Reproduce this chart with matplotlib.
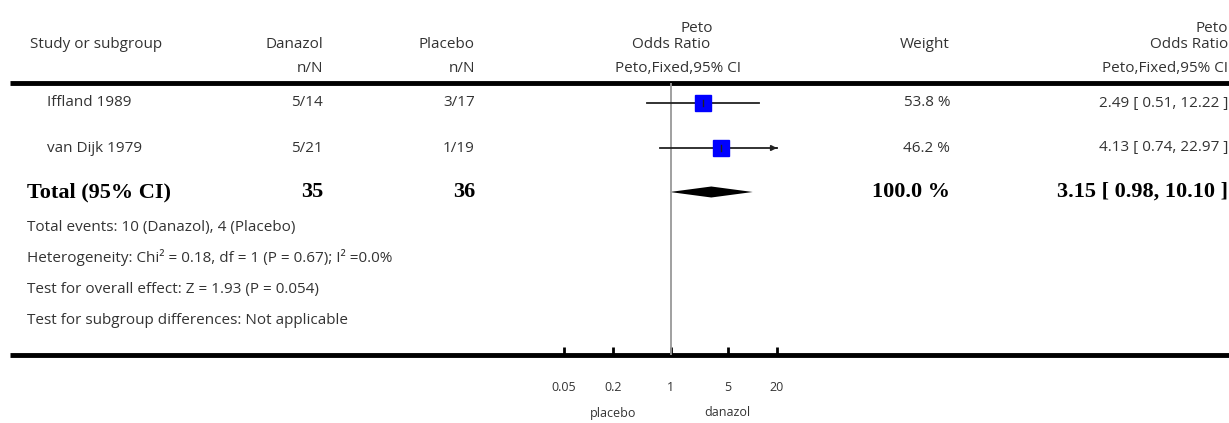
import numpy as np
import matplotlib.pyplot as plt

# study data
studies = ["Iffland 1989", "van Dijk 1979"]
danazol_nN = ["5/14", "5/21"]
placebo_nN = ["3/17", "1/19"]
odds = [2.49, 4.13]
ci_low = [0.51, 0.74]
ci_high = [12.22, 22.97]
weights = ["53.8 %", "46.2 %"]
or_text = ["2.49 [ 0.51, 12.22 ]", "4.13 [ 0.74, 22.97 ]"]

total_or = 3.15
total_low = 0.98
total_high = 10.10
total_danazol = "35"
total_placebo = "36"
total_weight = "100.0 %"
total_text = "3.15 [ 0.98, 10.10 ]"

footnotes = [
    "Total events: 10 (Danazol), 4 (Placebo)",
    "Heterogeneity: Chi² = 0.18, df = 1 (P = 0.67); I² =0.0%",
    "Test for overall effect: Z = 1.93 (P = 0.054)",
    "Test for subgroup differences: Not applicable",
]
tick_vals = [0.05, 0.2, 1, 5, 20]
tick_labels = ["0.05", "0.2", "1", "5", "20"]

W, H = 1229, 423
font = "Open Sans"
txt = "#333333"
fs = 11

fig = plt.figure(figsize=(W / 100, H / 100), dpi=100)
bg = fig.add_axes([0, 0, 1, 1])
bg.set_xlim(0, W)
bg.set_ylim(H, 0)
bg.axis("off")

top_y, bot_y = 83, 355
row_y = [103, 148]
total_y = 192
x_lo, x_hi = 564, 777
left, indent = 30, 47
col_d, col_p, col_w, col_r = 323, 475, 950, 1228

def t(x, y, s, ha="left", **kw):
    kw.setdefault("fontsize", fs)
    kw.setdefault("color", txt)
    kw.setdefault("family", font)
    bg.text(x, y, s, ha=ha, va="center", **kw)

# header
t(left, 44, "Study or subgroup")
t(col_d, 44, "Danazol", ha="right")
t(col_p, 44, "Placebo", ha="right")
t(713, 28, "Peto", ha="right")
t(671, 44, "Odds Ratio", ha="center")
t(col_w, 44, "Weight", ha="right")
t(col_r, 28, "Peto", ha="right")
t(col_r, 44, "Odds Ratio", ha="right")
t(col_d, 68, "n/N", ha="right")
t(col_p, 68, "n/N", ha="right")
t(678, 68, "Peto,Fixed,95% CI", ha="center")
t(col_r, 68, "Peto,Fixed,95% CI", ha="right")

bg.plot([10, W], [top_y, top_y], color="black", lw=3.5, solid_capstyle="butt")
bg.plot([10, W], [bot_y, bot_y], color="black", lw=3.5, solid_capstyle="butt")

for i, y in enumerate(row_y):
    t(indent, y, studies[i])
    t(col_d, y, danazol_nN[i], ha="right")
    t(col_p, y, placebo_nN[i], ha="right")
    t(col_w, y, weights[i], ha="right")
    t(col_r, y, or_text[i], ha="right")

bold = dict(family="Liberation Serif", fontweight="bold", fontsize=16, color="black")
t(left - 3, total_y, "Total (95% CI)", **bold)
t(col_d, total_y, total_danazol, ha="right", **bold)
t(col_p, total_y, total_placebo, ha="right", **bold)
t(col_w, total_y, total_weight, ha="right", **bold)
t(col_r, total_y, total_text, ha="right", **bold)

for k, s in enumerate(footnotes):
    t(left - 3, 227 + 31 * k, s)

# forest plot axes (log scale)
ax = fig.add_axes([x_lo / W, (H - bot_y) / H, (x_hi - x_lo) / W, (bot_y - top_y) / H])
ax.set_xscale("log")
ax.set_xlim(tick_vals[0], tick_vals[-1])
ax.set_ylim(bot_y, top_y)
ax.patch.set_alpha(0)
for sp in ax.spines.values():
    sp.set_visible(False)
ax.axvline(1, color="#999999", lw=1.3)

for i, y in enumerate(row_y):
    hi = min(ci_high[i], tick_vals[-1])
    ax.plot([ci_low[i], hi], [y, y], color="#222222", lw=1.3, clip_on=False)
    if ci_high[i] > tick_vals[-1]:
        ax.annotate("", xy=(hi, y), xytext=(hi * 0.9, y),
                    arrowprops=dict(arrowstyle="-|>", color="#222222", lw=1.2,
                                    mutation_scale=8))
    ax.plot(odds[i], y, marker="s", ms=11, color="#0000ff", mec="#0000ff", zorder=3)
    ax.plot([odds[i], odds[i]], [y - 3, y + 3], color="#222222", lw=1, zorder=4)

dy = 5.5
ax.fill([total_low, total_or, total_high, total_or],
        [total_y, total_y - dy, total_y, total_y + dy], color="black", lw=0)

ax.set_yticks([])
ax.set_xticks(tick_vals)
ax.set_xticklabels(tick_labels, family=font, fontsize=9, color=txt)
ax.minorticks_off()
ax.tick_params(axis="x", direction="in", length=6, width=2, color="black", pad=19)

t(613, 413, "placebo", ha="center", fontsize=9)
t(727, 413, "danazol", ha="center", fontsize=9)

fig.savefig("out.png", dpi=100)
